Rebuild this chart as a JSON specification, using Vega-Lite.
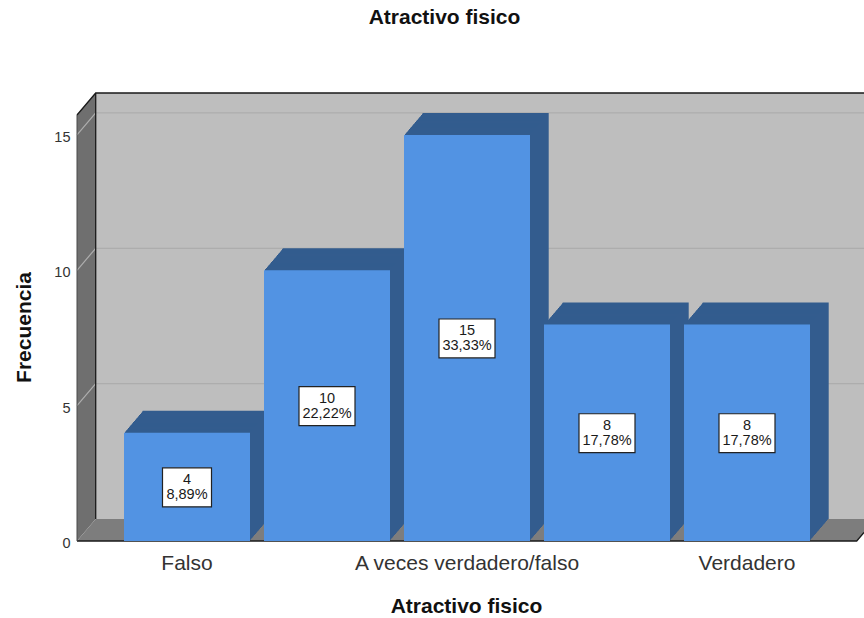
{"$schema":"https://vega.github.io/schema/vega-lite/v6.json","width":787,"height":448,"autosize":"none","padding":{"left":77,"top":93,"right":0,"bottom":77},"background":"#ffffff","view":{"stroke":null},
"title":{"text":"Atractivo fisico","font":"Liberation Sans","fontSize":21,"fontWeight":"bold","color":"#111111","anchor":"middle","dx":-26,"offset":62},
"data":{"values":[
{"categoria":"Falso","frecuencia":4,"etiqueta":"4\n8,89%"},
{"categoria":"Casi siempre falso","frecuencia":10,"etiqueta":"10\n22,22%"},
{"categoria":"A veces verdadero/falso","frecuencia":15,"etiqueta":"15\n33,33%"},
{"categoria":"Casi siempre verdadero","frecuencia":8,"etiqueta":"8\n17,78%"},
{"categoria":"Verdadero","frecuencia":8,"etiqueta":"8\n17,78%"}]},
"layer":[
{"encoding":{"x":{"field":"d","type":"quantitative","scale":{"domain":[0,42.09],"nice":false,"zero":false},"axis":null},"y":{"field":"v","type":"quantitative","scale":{"domain":[0,16.55],"nice":false},"axis":null}},
"layer":[
{"data":{"values":[{"d":1,"v":0.813,"w":16.55},{"d":42.09,"v":0.813,"w":16.55}]},"mark":{"type":"area","color":"#bebebe"},"encoding":{"y2":{"field":"w"}}},
{"data":{"values":[{"d":0,"v":0,"w":15.737},{"d":1,"v":0.813,"w":16.55}]},"mark":{"type":"area","color":"#6f6f6f"},"encoding":{"y2":{"field":"w"}}},
{"data":{"values":[{"d":0,"v":0,"w":0},{"d":1,"v":0,"w":0.813},{"d":41.7,"v":0,"w":0.813},{"d":42.09,"v":0.317,"w":0.813}]},"mark":{"type":"area","color":"#7d7d7d"},"encoding":{"y2":{"field":"w"}}},
{"data":{"values":[{"g":5,"d":0,"v":5},{"g":5,"d":1,"v":5.813},{"g":5,"d":42.09,"v":5.813},{"g":10,"d":0,"v":10},{"g":10,"d":1,"v":10.813},{"g":10,"d":42.09,"v":10.813},{"g":15,"d":0,"v":15},{"g":15,"d":1,"v":15.813},{"g":15,"d":42.09,"v":15.813}]},"mark":{"type":"line","color":"#adadad","strokeWidth":1.2},"encoding":{"detail":{"field":"g"}}},
{"data":{"values":[{"g":"a","d":0,"v":15.737},{"g":"a","d":1,"v":16.55},{"g":"a","d":42.09,"v":16.55},{"g":"b","d":1,"v":0.813},{"g":"b","d":1,"v":16.55},{"g":"c","d":0,"v":0},{"g":"c","d":41.7,"v":0},{"g":"c","d":42.09,"v":0.317}]},"mark":{"type":"line","color":"#1a1a1a","strokeWidth":1.3},"encoding":{"detail":{"field":"g"},"order":{"field":"v"}}},
{"data":{"values":[{"g":"a","d":0,"v":0},{"g":"a","d":0,"v":15.737}]},"mark":{"type":"line","color":"#4a4a4a","strokeWidth":1},"encoding":{"detail":{"field":"g"}}}
]},
{"encoding":{"x":{"field":"categoria","type":"nominal","scale":{"domain":["Falso","Casi siempre falso","A veces verdadero/falso","Casi siempre verdadero","Verdadero"],"range":[40,740],"paddingInner":0.1,"paddingOuter":0.05},
"axis":{"values":["Falso","A veces verdadero/falso","Verdadero"],"labelAngle":0,"labelLimit":400,"ticks":false,"domain":false,"labelFont":"Liberation Sans","labelFontSize":21,"labelColor":"#333333","labelPadding":11,"title":"Atractivo fisico","titleFont":"Liberation Sans","titleFontSize":21,"titleFontWeight":"bold","titleColor":"#111111","titleX":389,"titleY":65,"titleBaseline":"middle","titleAlign":"center"}},
"y":{"field":"frecuencia","type":"quantitative","scale":{"domain":[0,16.55],"nice":false},
"axis":{"values":[0,5,10,15],"grid":false,"ticks":false,"domain":false,"labelFont":"Liberation Sans","labelFontSize":14.5,"labelColor":"#333333","labelPadding":7,"labelOffset":2.5,"labelBound":false,"labelOverlap":false,"title":"Frecuencia","titleFont":"Liberation Sans","titleFontSize":21,"titleFontWeight":"bold","titleColor":"#111111","titleAngle":-90,"titleX":-53,"titleY":234,"titleAlign":"center","titleBaseline":"middle"}}},
"layer":[
{"mark":{"type":"bar","color":"#335c8e","xOffset":18.7,"x2Offset":18.7,"yOffset":-22,"y2Offset":-22}},
{"mark":{"type":"bar","color":"#335c8e","xOffset":18,"x2Offset":18,"yOffset":-21.2,"y2Offset":-21.2}},
{"mark":{"type":"bar","color":"#335c8e","xOffset":17,"x2Offset":17,"yOffset":-20,"y2Offset":-20}},
{"mark":{"type":"bar","color":"#335c8e","xOffset":16,"x2Offset":16,"yOffset":-18.8,"y2Offset":-18.8}},
{"mark":{"type":"bar","color":"#335c8e","xOffset":15,"x2Offset":15,"yOffset":-17.6,"y2Offset":-17.6}},
{"mark":{"type":"bar","color":"#335c8e","xOffset":14,"x2Offset":14,"yOffset":-16.5,"y2Offset":-16.5}},
{"mark":{"type":"bar","color":"#335c8e","xOffset":13,"x2Offset":13,"yOffset":-15.3,"y2Offset":-15.3}},
{"mark":{"type":"bar","color":"#335c8e","xOffset":12,"x2Offset":12,"yOffset":-14.1,"y2Offset":-14.1}},
{"mark":{"type":"bar","color":"#335c8e","xOffset":11,"x2Offset":11,"yOffset":-12.9,"y2Offset":-12.9}},
{"mark":{"type":"bar","color":"#335c8e","xOffset":10,"x2Offset":10,"yOffset":-11.8,"y2Offset":-11.8}},
{"mark":{"type":"bar","color":"#335c8e","xOffset":9,"x2Offset":9,"yOffset":-10.6,"y2Offset":-10.6}},
{"mark":{"type":"bar","color":"#335c8e","xOffset":8,"x2Offset":8,"yOffset":-9.4,"y2Offset":-9.4}},
{"mark":{"type":"bar","color":"#335c8e","xOffset":7,"x2Offset":7,"yOffset":-8.2,"y2Offset":-8.2}},
{"mark":{"type":"bar","color":"#335c8e","xOffset":6,"x2Offset":6,"yOffset":-7.1,"y2Offset":-7.1}},
{"mark":{"type":"bar","color":"#335c8e","xOffset":5,"x2Offset":5,"yOffset":-5.9,"y2Offset":-5.9}},
{"mark":{"type":"bar","color":"#335c8e","xOffset":4,"x2Offset":4,"yOffset":-4.7,"y2Offset":-4.7}},
{"mark":{"type":"bar","color":"#335c8e","xOffset":3,"x2Offset":3,"yOffset":-3.5,"y2Offset":-3.5}},
{"mark":{"type":"bar","color":"#335c8e","xOffset":2,"x2Offset":2,"yOffset":-2.4,"y2Offset":-2.4}},
{"mark":{"type":"bar","color":"#335c8e","xOffset":1,"x2Offset":1,"yOffset":-1.2,"y2Offset":-1.2}},
{"mark":{"type":"bar","color":"#5293e3"}}
]},
{"encoding":{"x":{"field":"categoria","type":"nominal","scale":{"domain":["Falso","Casi siempre falso","A veces verdadero/falso","Casi siempre verdadero","Verdadero"],"range":[40,740],"paddingInner":0.1,"paddingOuter":0.05},"axis":null},
"y":{"field":"frecuencia","type":"quantitative","scale":{"domain":[0,33.1],"nice":false},"axis":null}},
"layer":[
{"transform":[{"filter":"datum.frecuencia >= 8"}],"mark":{"type":"point","shape":"M-1,-0.696H1V0.696H-1Z","size":3136,"filled":true,"fill":"#ffffff","stroke":"#222222","strokeWidth":1.2,"opacity":1,"yOffset":0.5}},
{"transform":[{"filter":"datum.frecuencia < 8"}],"mark":{"type":"point","shape":"M-1,-0.796H1V0.796H-1Z","size":2401,"filled":true,"fill":"#ffffff","stroke":"#222222","strokeWidth":1.2,"opacity":1,"yOffset":0.5}},
{"mark":{"type":"text","font":"Liberation Sans","fontSize":14.5,"color":"#1a1a1a","lineBreak":"\n","lineHeight":15,"baseline":"middle","dy":-7},"encoding":{"text":{"field":"etiqueta","type":"nominal"}}}
]}
],
"resolve":{"scale":{"x":"independent","y":"independent"}}}
